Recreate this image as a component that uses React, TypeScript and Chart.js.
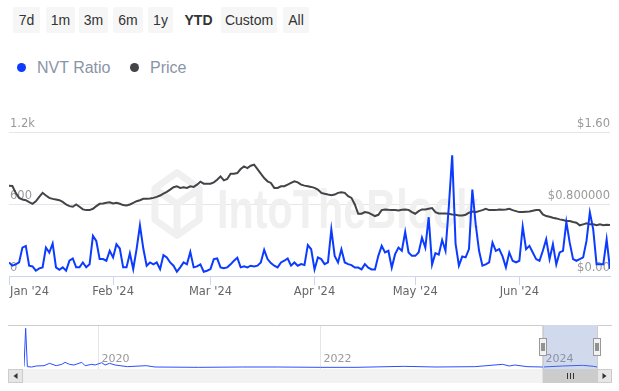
import React, { useEffect, useRef } from 'react';
import { Chart, registerables } from 'chart.js';

Chart.register(...registerables);

// ---------------- data ----------------
const rangeButtons = ['7d', '1m', '3m', '6m', '1y', 'YTD', 'Custom', 'All'];
const selectedRange = 'YTD';

const seriesNames = ['NVT Ratio', 'Price'];

// x = day index since Jan 1 2024
const monthTickDays = [0, 31, 60, 91, 121, 152];
const monthTickLabels = ["Jan '24", "Feb '24", "Mar '24", "Apr '24", "May '24", "Jun '24"];

const nvtTickValues = [0, 600, 1200];
const nvtTickLabels = ['0', '600', '1.2k'];
const priceTickValues = [0, 0.8, 1.6];
const priceTickLabels = ['$0.00', '$0.800000', '$1.60'];

const nvtRatio = [
  113, 86, 97, 113, 237, 251, 86, 80, 44, 64,
  72, 237, 196, 271, 72, 52, 72, 44, 127, 146,
  72, 72, 113, 72, 97, 334, 292, 141, 141, 127,
  210, 155, 265, 229, 72, 72, 190, 58, 224, 422,
  229, 86, 113, 97, 113, 58, 174, 155, 113, 86,
  36, 72, 113, 97, 201, 72, 80, 97, 36, 44,
  58, 141, 146, 72, 64, 72, 97, 127, 152, 72,
  80, 72, 86, 80, 86, 113, 218, 141, 108, 86,
  72, 113, 127, 146, 86, 113, 86,
  99, 91, 257, 223, 55, 154, 141, 99, 113, 389,
  168, 113, 223, 113, 99, 91, 70, 70, 55, 99,
  70, 55, 55, 168, 251, 196, 210, 70, 182, 237,
  210, 367, 196, 168, 168, 196, 320, 237, 490,
  95, 190, 178, 300, 210, 580, 1005, 270, 86, 163,
  155, 224, 720, 430, 210, 86, 97, 113, 278, 210,
  224, 163, 72, 196, 127, 113, 127, 412, 224, 251,
  196, 141, 127, 210, 306, 141, 265, 97, 196, 210,
  450, 278, 141, 127, 141, 155, 292, 530, 389, 97,
  97, 97, 306, 60,
];

const price = [
  1.004, 1.0, 0.924, 0.868, 0.85, 0.842, 0.82, 0.802, 0.83, 0.88,
  0.924, 0.894, 0.868, 0.857, 0.85, 0.842, 0.824, 0.795, 0.776, 0.769,
  0.795, 0.769, 0.74, 0.732, 0.732, 0.747, 0.776, 0.802, 0.806, 0.813,
  0.82, 0.806, 0.813, 0.802, 0.788, 0.784, 0.795, 0.813, 0.831, 0.842,
  0.857, 0.857, 0.86, 0.868, 0.879, 0.894, 0.916, 0.934, 0.96, 0.986,
  0.997, 0.979, 0.986, 0.979, 0.997, 0.99, 1.015, 1.048, 1.026, 1.026,
  1.026,
  1.041, 1.07, 1.107, 1.063, 1.078, 1.137, 1.137, 1.144, 1.188, 1.217,
  1.199, 1.225, 1.236, 1.188, 1.137, 1.089, 1.052, 1.034, 0.979, 0.979,
  0.997, 0.997, 1.015, 1.034, 1.052, 1.041, 1.015, 1.004, 0.997, 0.99,
  0.979, 0.96, 0.924, 0.913, 0.905, 0.898, 0.905, 0.924, 0.931, 0.924,
  0.887, 0.868, 0.795, 0.692, 0.692, 0.71, 0.703, 0.684, 0.666, 0.68,
  0.732, 0.74, 0.735, 0.732, 0.732, 0.728, 0.735, 0.74, 0.735, 0.71,
  0.692, 0.721, 0.74, 0.74, 0.747, 0.754, 0.71, 0.695, 0.695, 0.695,
  0.692, 0.684, 0.681, 0.673, 0.673, 0.681, 0.703, 0.717, 0.71, 0.721,
  0.732, 0.747, 0.732, 0.732, 0.732, 0.74, 0.736, 0.74, 0.747, 0.732,
  0.721, 0.71, 0.71, 0.714, 0.717, 0.725, 0.732, 0.732, 0.684, 0.666,
  0.659, 0.648, 0.64, 0.629, 0.622, 0.611, 0.611, 0.6, 0.592, 0.563,
  0.574, 0.585, 0.574, 0.574, 0.563, 0.574, 0.563, 0.57, 0.566,
];

// navigator (full history), x in decimal years
const navYears = [
  2019.33, 2019.345, 2019.36, 2019.4, 2019.44, 2019.51, 2019.56, 2019.62, 2019.67, 2019.7,
  2019.74, 2019.78, 2019.85, 2019.88, 2019.94, 2019.97, 2020.03, 2020.06, 2020.1, 2020.15,
  2020.26, 2020.43, 2020.51, 2020.9, 2021.3, 2021.61, 2022.0, 2022.32, 2022.75, 2023.04,
  2023.39, 2023.64, 2023.7, 2023.75, 2023.86, 2024.0, 2024.18, 2024.36, 2024.46, 2024.49,
];
const navNvt = [
  1350, 23500, 1350, 1150, 1730, 1920, 3270, 1920, 2690, 3850,
  2690, 2310, 3850, 1920, 2690, 2310, 3650, 2310, 3270, 2310,
  1350, 1920, 1150, 960, 1150, 1150, 960, 960, 1540, 1150,
  1350, 2690, 1730, 2310, 1350, 1150, 1730, 2115, 1540, 1150,
];
const navYearTicks = [2020, 2022, 2024];
const navYearLabels = ['2020', '2022', '2024'];
const selectedFrom = 2024.0;
const selectedTo = 2024.49;

// ---------------- styles ----------------
const BLUE = '#0b3bff';
const DARK = '#434348';
const FONT = '"DejaVu Sans", "Lucida Grande", sans-serif';
const UI_FONT = '"Liberation Sans", Arial, Helvetica, sans-serif';

const buttonLeft = [13, 46, 79, 113, 148, 178, 221, 283];
const buttonWidth = [27, 29, 29, 30, 25, 41, 56, 26];

const watermarkPlugin = {
  id: 'watermark',
  beforeDatasetsDraw(chart: any) {
    const { ctx, chartArea: a } = chart;
    ctx.save();
    // cube logo
    const cx = a.left + 168;
    const cy = a.top + 72;
    const r = 30;
    ctx.strokeStyle = '#f0f0f0';
    ctx.lineWidth = 7;
    ctx.lineJoin = 'round';
    ctx.beginPath();
    for (let k = 0; k < 6; k++) {
      const ang = -Math.PI / 2 + (k * Math.PI) / 3;
      const px = cx + r * 0.85 * Math.cos(ang);
      const py = cy + r * Math.sin(ang) * 1.05;
      if (k === 0) ctx.moveTo(px, py);
      else ctx.lineTo(px, py);
    }
    ctx.closePath();
    ctx.stroke();
    ctx.beginPath();
    ctx.moveTo(cx - r * 0.85 * Math.cos(Math.PI / 6), cy - r * 0.5);
    ctx.lineTo(cx, cy);
    ctx.lineTo(cx + r * 0.85 * Math.cos(Math.PI / 6), cy - r * 0.5);
    ctx.moveTo(cx, cy);
    ctx.lineTo(cx, cy + r);
    ctx.stroke();
    // text
    ctx.fillStyle = '#f0f0f0';
    ctx.font = 'bold 56px "Liberation Sans", sans-serif';
    ctx.textBaseline = 'alphabetic';
    ctx.translate(a.left + 208, a.top + 96);
    const w = ctx.measureText('IntoTheBlock').width;
    ctx.scale(262 / w, 1);
    ctx.fillText('IntoTheBlock', 0, 0);
    ctx.restore();
  },
};

const xLabelPlugin = {
  id: 'xLabels',
  afterDraw(chart: any) {
    const { ctx, chartArea: a, scales } = chart;
    const x = scales.x;
    ctx.save();
    ctx.font = '11.5px ' + FONT;
    ctx.fillStyle = '#666666';
    ctx.textBaseline = 'middle';
    ctx.textAlign = 'left';
    monthTickDays.forEach((d, i) => {
      const label = monthTickLabels[i];
      const px = x.getPixelForValue(d);
      const w = ctx.measureText(label).width;
      let left = px - w / 2;
      if (left < a.left + 1) left = a.left + 1;
      if (left + w > a.right) left = a.right - w;
      ctx.fillText(label, left, a.bottom + 16);
    });
    ctx.restore();
  },
};

const navPlugin = {
  id: 'navDecor',
  beforeDatasetsDraw(chart: any) {
    const { ctx, chartArea: a, scales } = chart;
    const x = scales.x;
    ctx.save();
    ctx.font = '11px ' + FONT;
    ctx.fillStyle = '#999999';
    ctx.textBaseline = 'middle';
    ctx.textAlign = 'left';
    navYearTicks.forEach((yr, i) => {
      ctx.fillText(navYearLabels[i], x.getPixelForValue(yr) + 3, a.bottom - 9.5);
    });
    ctx.restore();
  },
  afterDraw(chart: any) {
    const { ctx, chartArea: a, scales } = chart;
    const x = scales.x;
    const x0 = x.getPixelForValue(selectedFrom);
    const x1 = x.getPixelForValue(selectedTo);
    ctx.save();
    // mask
    ctx.fillStyle = 'rgba(102,133,194,0.3)';
    ctx.fillRect(x0, a.top, x1 - x0, a.bottom - a.top);
    // outline
    ctx.strokeStyle = '#cccccc';
    ctx.lineWidth = 1;
    ctx.beginPath();
    ctx.moveTo(8, a.top + 0.5);
    ctx.lineTo(Math.round(x0) + 0.5, a.top + 0.5);
    ctx.lineTo(Math.round(x0) + 0.5, a.bottom);
    ctx.moveTo(Math.round(x1) + 0.5, a.bottom);
    ctx.lineTo(Math.round(x1) + 0.5, a.top + 0.5);
    ctx.lineTo(612, a.top + 0.5);
    ctx.stroke();

    // scrollbar
    const sy = a.bottom;
    const sh = 14;
    ctx.fillStyle = '#f2f2f2';
    ctx.fillRect(8, sy, 604, sh);
    ctx.fillStyle = '#cccccc';
    ctx.fillRect(x0, sy, x1 - x0, sh);
    ctx.strokeStyle = '#333333';
    ctx.beginPath();
    const mid = Math.round((x0 + x1) / 2);
    for (const o of [-3, 0, 3]) {
      ctx.moveTo(mid + o + 0.5, sy + 4);
      ctx.lineTo(mid + o + 0.5, sy + 10);
    }
    ctx.stroke();
    const drawBtn = (bx: number, dir: number) => {
      ctx.fillStyle = '#e6e6e6';
      ctx.fillRect(bx, sy, 15, sh);
      ctx.strokeStyle = '#cccccc';
      ctx.strokeRect(bx + 0.5, sy + 0.5, 14, sh - 1);
      ctx.fillStyle = '#333333';
      ctx.beginPath();
      const c = bx + 7.5;
      ctx.moveTo(c - 2 * dir, sy + 7);
      ctx.lineTo(c + 2 * dir, sy + 4);
      ctx.lineTo(c + 2 * dir, sy + 10);
      ctx.closePath();
      ctx.fill();
    };
    drawBtn(8, 1);
    drawBtn(597, -1);

    // handles
    const hy = (a.top + a.bottom) / 2;
    for (const hx of [x0, x1]) {
      const rx = Math.round(hx) - 4;
      ctx.fillStyle = '#f2f2f2';
      ctx.fillRect(rx, hy - 9, 8, 18);
      ctx.strokeStyle = '#999999';
      ctx.strokeRect(rx + 0.5, hy - 8.5, 7, 17);
      ctx.strokeStyle = '#333333';
      ctx.beginPath();
      ctx.moveTo(rx + 3, hy - 4);
      ctx.lineTo(rx + 3, hy + 4);
      ctx.moveTo(rx + 5, hy - 4);
      ctx.lineTo(rx + 5, hy + 4);
      ctx.stroke();
    }
    ctx.restore();
  },
};

export default function App() {
  const mainRef = useRef<HTMLCanvasElement>(null);
  const navRef = useRef<HTMLCanvasElement>(null);

  useEffect(() => {
    const tickFont = { family: FONT, size: 11.5 };
    const main = new Chart(mainRef.current as HTMLCanvasElement, {
      type: 'line',
      data: {
        datasets: [
          {
            label: seriesNames[0],
            data: nvtRatio.map((v, i) => ({ x: i, y: v })),
            borderColor: BLUE,
            borderWidth: 2,
            pointRadius: 0,
            tension: 0,
            yAxisID: 'yNvt',
          },
          {
            label: seriesNames[1],
            data: price.map((v, i) => ({ x: i, y: v })),
            borderColor: DARK,
            borderWidth: 2,
            pointRadius: 0,
            tension: 0,
            yAxisID: 'yPrice',
          },
        ],
      },
      options: {
        responsive: false,
        animation: false,
        devicePixelRatio: 1,
        layout: { padding: { left: 7, right: 9, top: 32, bottom: 25 } },
        plugins: { legend: { display: false }, tooltip: { enabled: false } },
        scales: {
          x: {
            type: 'linear',
            min: 0,
            max: nvtRatio.length - 1,
            afterBuildTicks: (s: any) => {
              s.ticks = monthTickDays.map((v) => ({ value: v }));
            },
            ticks: { display: false },
            grid: { drawOnChartArea: false, drawTicks: true, tickLength: 9, color: '#ccd6eb' },
            border: { color: '#ccd6eb' },
          },
          yNvt: {
            position: 'left',
            min: 0,
            max: 1200,
            afterBuildTicks: (s: any) => {
              s.ticks = nvtTickValues.map((v) => ({ value: v }));
            },
            ticks: {
              mirror: true,
              padding: 1,
              labelOffset: -8,
              color: '#999999',
              font: tickFont,
              callback: (_v: any, i: number) => nvtTickLabels[i],
            },
            grid: { color: '#e6e6e6', drawTicks: false },
            border: { display: false },
          },
          yPrice: {
            position: 'right',
            min: 0,
            max: 1.6,
            afterBuildTicks: (s: any) => {
              s.ticks = priceTickValues.map((v) => ({ value: v }));
            },
            ticks: {
              mirror: true,
              padding: 0,
              labelOffset: -8,
              color: '#999999',
              font: tickFont,
              callback: (_v: any, i: number) => priceTickLabels[i],
            },
            grid: { drawOnChartArea: false, drawTicks: false },
            border: { display: false },
          },
        },
      } as any,
      plugins: [watermarkPlugin, xLabelPlugin],
    });

    const nav = new Chart(navRef.current as HTMLCanvasElement, {
      type: 'line',
      data: {
        datasets: [
          {
            data: navYears.map((yr, i) => ({ x: yr, y: navNvt[i] })),
            borderColor: '#2a4dff',
            borderWidth: 1,
            pointRadius: 0,
            tension: 0,
          },
        ],
      },
      options: {
        responsive: false,
        animation: false,
        devicePixelRatio: 1,
        layout: { padding: { left: 24, right: 22, top: 8, bottom: 22 } },
        plugins: { legend: { display: false }, tooltip: { enabled: false } },
        scales: {
          x: {
            type: 'linear',
            min: navYears[0],
            max: navYears[navYears.length - 1],
            afterBuildTicks: (s: any) => {
              s.ticks = navYearTicks.map((v) => ({ value: v }));
            },
            ticks: { display: false },
            grid: { color: '#e6e6e6', drawTicks: false },
            border: { display: false },
          },
          y: { display: false, min: 0, max: 25400 },
        },
      } as any,
      plugins: [navPlugin],
    });

    return () => {
      main.destroy();
      nav.destroy();
    };
  }, []);

  return (
    <div
      style={{
        position: 'fixed',
        left: 0,
        top: 0,
        width: 619,
        height: 391,
        background: '#ffffff',
        overflow: 'hidden',
        fontFamily: FONT,
      }}
    >
      {rangeButtons.map((b, i) => (
        <div
          key={b}
          style={{
            position: 'absolute',
            left: buttonLeft[i],
            top: 7,
            width: buttonWidth[i],
            height: 26,
            lineHeight: '26px',
            textAlign: 'center',
            fontFamily: UI_FONT,
            fontSize: 14,
            color: '#333333',
            background: b === selectedRange ? 'transparent' : '#f6f6f6',
            fontWeight: b === selectedRange ? 'bold' : 'normal',
            borderRadius: 2,
          }}
        >
          {b}
        </div>
      ))}
      {seriesNames.map((name, i) => (
        <div
          key={name}
          style={{
            position: 'absolute',
            left: i === 0 ? 17 : 130,
            top: 57,
            height: 22,
            lineHeight: '22px',
            fontFamily: UI_FONT,
            fontSize: 16,
            color: '#8a94a6',
            whiteSpace: 'nowrap',
          }}
        >
          <span
            style={{
              display: 'inline-block',
              width: 9,
              height: 9,
              borderRadius: '50%',
              background: i === 0 ? BLUE : DARK,
              marginRight: 11,
              verticalAlign: 'middle',
              position: 'relative',
              top: -1,
            }}
          />
          {name}
        </div>
      ))}
      <canvas
        ref={mainRef}
        width={619}
        height={210}
        style={{ position: 'absolute', left: 0, top: 100, width: 619, height: 210 }}
      />
      <canvas
        ref={navRef}
        width={619}
        height={74}
        style={{ position: 'absolute', left: 0, top: 317, width: 619, height: 74 }}
      />
    </div>
  );
}
